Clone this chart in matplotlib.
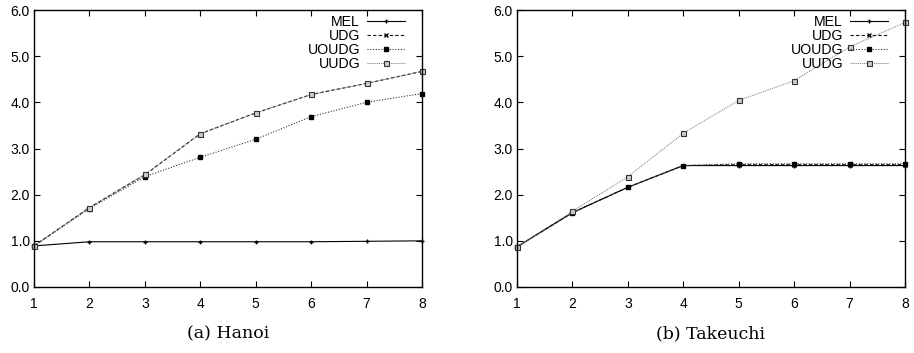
import matplotlib
matplotlib.use("Agg")
import matplotlib.pyplot as plt

x = [1, 2, 3, 4, 5, 6, 7, 8]

# (a) Hanoi
hanoi_mel = [0.89, 0.98, 0.98, 0.98, 0.98, 0.98, 0.99, 1.0]
hanoi_udg = [0.89, 1.72, 2.43, 3.32, 3.77, 4.17, 4.41, 4.67]
hanoi_uoudg = [0.89, 1.70, 2.39, 2.81, 3.20, 3.69, 4.00, 4.19]
hanoi_uudg = [0.89, 1.72, 2.44, 3.32, 3.77, 4.17, 4.41, 4.67]

# (b) Takeuchi
take_mel = [0.87, 1.61, 2.16, 2.63, 2.63, 2.63, 2.63, 2.63]
take_udg = [0.87, 1.61, 2.16, 2.63, 2.65, 2.65, 2.65, 2.65]
take_uoudg = [0.87, 1.61, 2.16, 2.63, 2.67, 2.67, 2.67, 2.67]
take_uudg = [0.87, 1.64, 2.39, 3.33, 4.04, 4.47, 5.20, 5.73]

labels = ["MEL", "UDG", "UOUDG", "UUDG"]
captions = ["(a) Hanoi", "(b) Takeuchi"]
yticks = [0, 1, 2, 3, 4, 5, 6]

styles = [
    dict(color="black", linestyle="-", marker="+", markersize=3.5, linewidth=0.8),
    dict(color="#111111", linestyle=(0, (3, 2)), marker="x", markersize=2.8, linewidth=0.8),
    dict(color="#333333", linestyle=(0, (1, 1.5)), marker="s", markersize=2.3, linewidth=0.8,
         markerfacecolor="black", markeredgecolor="black"),
    dict(color="#777777", linestyle=(0, (1, 1)), marker="s", markersize=3.6,
         markerfacecolor="#cccccc", markeredgecolor="#333333", markeredgewidth=0.8,
         linewidth=0.7),
]

plt.rcParams["font.family"] = ["Liberation Sans", "DejaVu Sans"]

fig = plt.figure(figsize=(9.14, 3.53), dpi=100)
ax_a = fig.add_axes([34 / 914, 1 - 287 / 353, 388 / 914, 277 / 353])
ax_b = fig.add_axes([517 / 914, 1 - 287 / 353, 388 / 914, 277 / 353])

for ax, series, cap in [(ax_a, [hanoi_mel, hanoi_udg, hanoi_uoudg, hanoi_uudg], captions[0]),
                        (ax_b, [take_mel, take_udg, take_uoudg, take_uudg], captions[1])]:
    for ys, lab, st in zip(series, labels, styles):
        ax.plot(x, ys, label=lab, clip_on=False, **st)
    ax.set_xlim(1, 8)
    ax.set_ylim(0, 6)
    ax.set_xticks(x)
    ax.set_yticks(yticks)
    ax.set_yticklabels([f"{v:.1f}" for v in yticks])
    ax.tick_params(direction="in", top=True, right=True, length=4, width=0.8,
                   labelsize=10)
    ax.tick_params(axis="x", pad=7)
    ax.tick_params(axis="y", pad=3)
    for sp in ax.spines.values():
        sp.set_linewidth(1.0)
    leg = ax.legend(loc="upper right", frameon=False, markerfirst=False,
                    fontsize=10.2, handlelength=2.7, labelspacing=0.0,
                    borderaxespad=0.0, borderpad=0.35, handletextpad=0.5,
                    bbox_to_anchor=(0.97, 1.0))
    for t in leg.get_texts():
        t.set_ha("right")
    ax.text(0.5, -0.14, cap, transform=ax.transAxes, ha="center", va="top",
            fontsize=12.5, family=["DejaVu Serif"])

fig.savefig("out.png", dpi=100)
